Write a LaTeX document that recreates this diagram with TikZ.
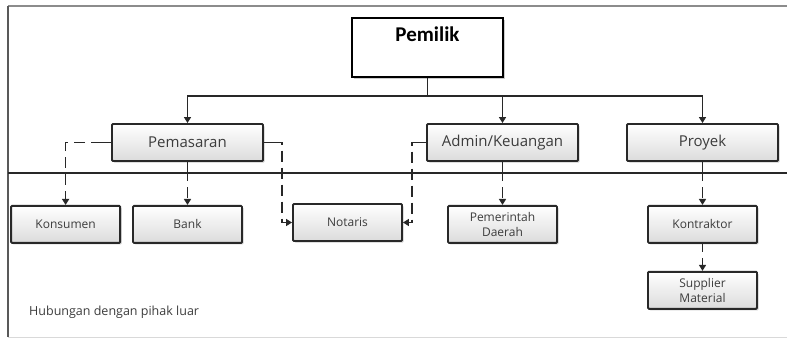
\documentclass[tikz,border=0pt]{standalone}
\usepackage{fontspec}
\setmainfont{Open Sans}
\newfontfamily\titlefont{Carlito}
\usetikzlibrary{positioning,arrows.meta,shadows}
\definecolor{edge}{RGB}{40,40,40}
\definecolor{txt}{RGB}{60,60,60}

\begin{document}
\begin{tikzpicture}[x=1pt,y=-1pt,>={Triangle[width=7pt,length=6pt]},node distance=43pt and 11pt,
  unit/.style={draw=edge,line width=1.9pt,rounded corners=1pt,top color=white,bottom color=black!14,minimum width=151pt,minimum height=37pt,font=\fontsize{15}{17}\selectfont,text=txt,drop shadow={shadow xshift=1.5pt,shadow yshift=-1.5pt,opacity=.4}},
  ext/.style={unit,minimum width=109pt,font=\fontsize{12}{15.5}\selectfont,align=center},
  wire/.style={draw=edge,line width=1.6pt},
  dsh/.style={wire,dash pattern=on 11pt off 6pt,dash phase=3pt}]
  \useasboundingbox (0,0) rectangle (787,338);
  % frame and border to the outside
  \coordinate (tl) at (8,6); \coordinate (tr) at (787,6);
  \coordinate (bl) at (8,337); \coordinate (br) at (787,337);
  \coordinate (sepL) at (8,173); \coordinate (sepR) at (787,173);
  \coordinate (bus) at (0,96);
  \draw[line width=2.6pt,draw=black!45] (tl)--(tr);
  \draw[line width=0.6pt,draw=black!15] (bl)--(br);
  \draw[line width=2.6pt,draw=black!65] (tl)--(bl);
  \draw[line width=2.6pt,draw=edge] (sepL)--(sepR);

  \node[draw=black,line width=2.8pt,fill=white,minimum width=151pt,minimum height=59pt,
    font=\titlefont\bfseries\fontsize{21}{24}\selectfont,text height=14pt,text depth=27pt,
    drop shadow={shadow xshift=1.5pt,shadow yshift=-1.5pt,opacity=.4}] (own) at (427.5,47.5) {Pemilik};
  \node[unit] (mkt) at (187.5,142.5) {Pemasaran};
  \node[unit] (adm) at (502.5,142.5) {Admin/Keuangan};
  \node[unit] (prj) at (702.5,142.5) {Proyek};

  \node[ext,below=of mkt] (bnk) {Bank};
  \node[ext,left=of bnk] (kon) {Konsumen};
  \node[ext] (not) at (347.5,222.5) {Notaris};
  \node[ext,below=of adm] (pem) {Pemerintah\\Daerah};
  \node[ext,below=of prj] (ktr) {Kontraktor};
  \node[ext,below=27pt of ktr] (sup) {Supplier\\Material};
  \node[anchor=west,inner sep=0pt,font=\fontsize{12.5}{14}\selectfont,text=txt] (lbl) at (29,312) {Hubungan dengan pihak luar};

  \draw[wire,->] (own.south)--(own.south |- bus) -| (mkt.north);
  \draw[wire,->] (own.south |- bus) -| (adm.north);
  \draw[wire,->] (own.south |- bus) -| (prj.north);

  \draw[wire] (mkt.south)--(mkt.south |- sepL); \draw[dsh,->] (mkt.south |- sepL)--(bnk.north);
  \draw[wire] (adm.south)--(adm.south |- sepL); \draw[dsh,->] (adm.south |- sepL)--(pem.north);
  \draw[wire] (prj.south)--(prj.south |- sepL); \draw[dsh,->] (prj.south |- sepL)--(ktr.north);
  \draw[dsh,->] (ktr)--(sup);

  \draw[wire] (mkt.west)--++(-12,0) coordinate (m1); \draw[dsh,->] (m1) -| (kon.north);
  \draw[wire] (mkt.east)--++(12,0) coordinate (m2); \draw[dsh,->] (m2)--++(6,0) |- (not.west);
  \draw[wire] (adm.west)--++(-9,0) coordinate (a1); \draw[dsh,->] (a1)--++(-5,0) |- (not.east);
\end{tikzpicture}
\end{document}
